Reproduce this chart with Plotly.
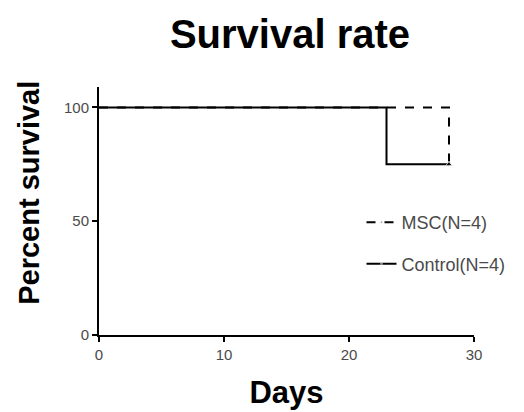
import plotly.graph_objects as go

msc_days = [0, 28]
msc_survival = [100, 75]
control_days = [0, 23, 28]
control_survival = [100, 75, 75]
x_ticks = [0, 10, 20, 30]
y_ticks = [0, 50, 100]

fig = go.Figure()
fig.add_trace(go.Scatter(
    x=msc_days, y=msc_survival, name="MSC(N=4)", mode="lines+markers", legendgroup="msc",
    line=dict(color="black", width=2, dash="dash", shape="hv"),
    marker=dict(symbol="triangle-up", size=[0, 6], color="black")))
fig.add_trace(go.Scatter(
    x=control_days, y=control_survival, name="Control(N=4)", mode="lines+markers", legendgroup="ctrl",
    line=dict(color="black", width=2, shape="hv"),
    marker=dict(symbol="triangle-up", size=[0, 0, 6], color="black")))

fig.update_layout(
    width=516, height=404,
    margin=dict(l=91, r=50, t=79, b=77),
    paper_bgcolor="white", plot_bgcolor="white",
    font=dict(family="Liberation Sans, Arial, sans-serif", color="#4a4a4a"),
    title=dict(text="<b>Survival rate</b>", x=0.5465, xanchor="center",
               y=1 - 26 / 404, yanchor="middle", automargin=False,
               font=dict(size=40, color="black", family="Liberation Sans, Arial, sans-serif")),
    xaxis=dict(range=[0, 30], tickvals=x_ticks, showgrid=False, zeroline=False,
               showline=True, linecolor="black", linewidth=2, ticks="outside",
               ticklen=5, tickwidth=2, tickcolor="black", automargin=False,
               tickfont=dict(size=15, color="#4a4a4a"),
               title=dict(text="<b>Days</b>", font=dict(size=31, color="black"), standoff=19)),
    yaxis=dict(range=[0, 109], tickvals=y_ticks, showgrid=False, zeroline=False,
               showline=True, linecolor="black", linewidth=2, ticks="outside",
               ticklen=5, tickwidth=2, tickcolor="black", automargin=False,
               tickfont=dict(size=15, color="#4a4a4a")),
    annotations=[dict(text="<b>Percent survival</b>", textangle=-90, showarrow=False,
                      xref="paper", yref="paper", x=-0.187, y=0.573,
                      xanchor="center", yanchor="middle",
                      font=dict(size=29, color="black"))],
    legend=dict(x=0.70, y=0.528, xanchor="left", yanchor="top",
                font=dict(size=18, color="#4a4a4a"), tracegroupgap=15,
                bgcolor="rgba(0,0,0,0)", itemwidth=30),
    showlegend=True,
)

fig.write_html("out.html")
